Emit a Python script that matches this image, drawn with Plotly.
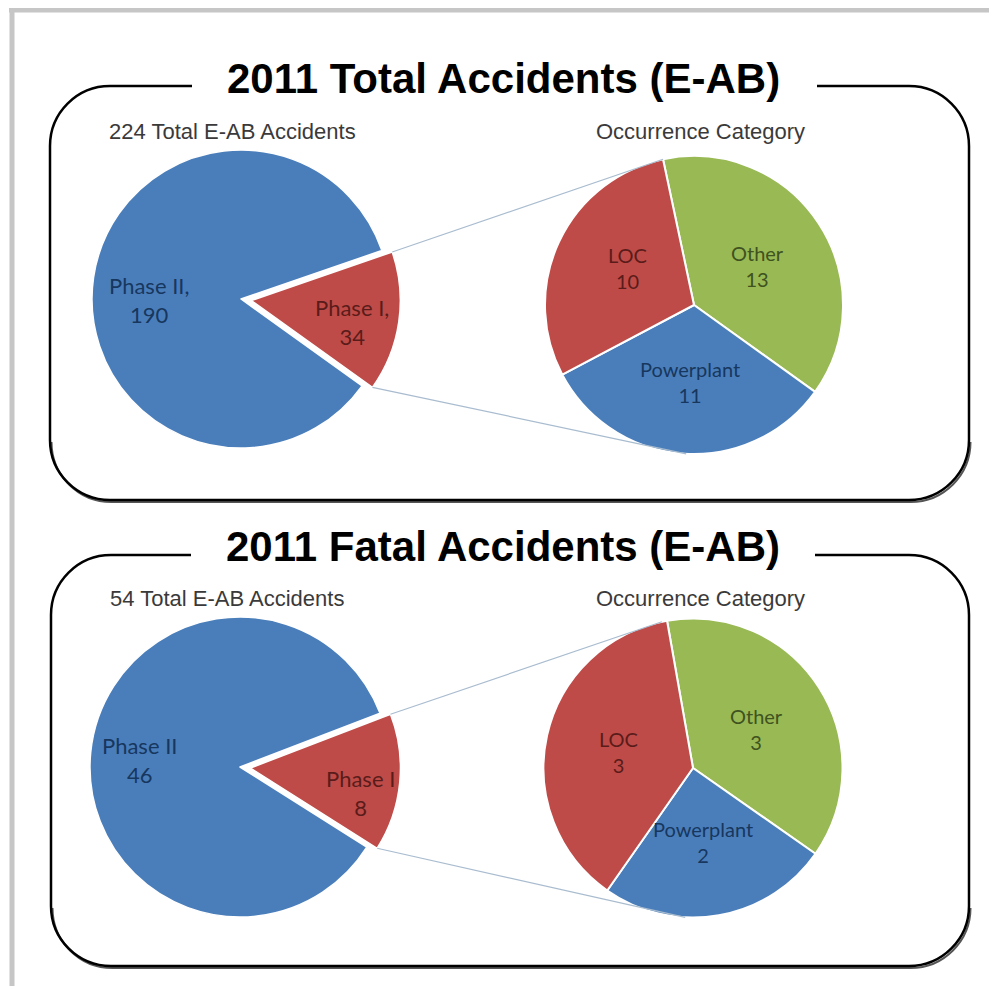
import math
import plotly.graph_objects as go

# The page body has an 8px margin, so the figure is drawn at (8, 8):
# reference pixel = figure pixel + OFF
W, H = 997, 994
OFF = 8
FW, FH = W - OFF, H - 2 * OFF

# ---------------- data ----------------
panel_titles = ["2011 Total Accidents (E-AB)", "2011 Fatal Accidents (E-AB)"]
left_subtitles = ["224 Total E-AB Accidents", "54 Total E-AB Accidents"]
right_subtitles = ["Occurrence Category", "Occurrence Category"]

phase_labels = ["Phase I", "Phase II"]
total_phase_values = [34, 190]
fatal_phase_values = [8, 46]

occ_labels = ["Other", "Powerplant", "LOC"]
total_occ_values = [13, 11, 10]
fatal_occ_values = [3, 2, 3]

# ---------------- style / layout ----------------
BLUE, RED, GREEN = "#4A7EBB", "#BE4B48", "#98B954"
phase_colors = [RED, BLUE]
occ_colors = [GREEN, BLUE, RED]
phase_text_colors = ["#5A1C1A", "#17375E"]
occ_text_colors = ["#3F5220", "#17375E", "#5A1C1A"]

panels = [
    dict(box=(50, 86, 969, 500), gap=(192, 817), title_y=78, sub_y=131,
         left=dict(cx=241, cy=299, r=149, rot=71, pull=0.07),
         right=dict(cx=694, cy=305, r=149, rot=-12),
         phase_values=total_phase_values, occ_values=total_occ_values, sep=",",
         phase_lab=[(0.69, 4), (0.62, -9)],
         occ_lab=[(0.50, 2), (0.52, -1), (0.51, 4)]),
    dict(box=(51, 555, 969, 966), gap=(191, 815), title_y=546, sub_y=598,
         left=dict(cx=240, cy=767, r=150, rot=69, pull=0.07),
         right=dict(cx=693, cy=768, r=149.5, rot=-10),
         phase_values=fatal_phase_values, occ_values=fatal_occ_values, sep="",
         phase_lab=[(0.75, 7), (0.67, -1.5)],
         occ_lab=[(0.50, 1), (0.50, 2), (0.51, 0)]),
]


def slice_angles(values, rotation):
    tot = float(sum(values))
    a = rotation
    out = []
    for v in values:
        span = 360.0 * v / tot
        out.append((a, a + span))
        a += span
    return out


def polar(cx, cy, r, compass):
    t = math.radians(compass)
    return cx + r * math.sin(t), cy - r * math.cos(t)


def domain(cx, cy, r, pull=0.0):
    half = r * (1 + pull)
    return dict(x=[(cx - half - OFF) / FW, (cx + half - OFF) / FW],
                y=[1 - (cy + half - OFF) / FH, 1 - (cy - half - OFF) / FH])


def panel_path(x0, y0, x1, y1, r, gl, gr):
    k = 0.5523 * r
    return (f"M{gl},{y0} L{x0 + r},{y0} C{x0 + r - k},{y0} {x0},{y0 + r - k} {x0},{y0 + r} "
            f"L{x0},{y1 - r} C{x0},{y1 - r + k} {x0 + r - k},{y1} {x0 + r},{y1} "
            f"L{x1 - r},{y1} C{x1 - r + k},{y1} {x1},{y1 - r + k} {x1},{y1 - r} "
            f"L{x1},{y0 + r} C{x1},{y0 + r - k} {x1 - r + k},{y0} {x1 - r},{y0} L{gr},{y0}")


def bottom_shadow(x0, y0, x1, y1, r, dx=1.5, dy=2.0):
    k = 0.5523 * r
    return (f"M{x0 + dx},{y1 - r + dy} C{x0 + dx},{y1 - r + k + dy} {x0 + r - k + dx},{y1 + dy} {x0 + r + dx},{y1 + dy} "
            f"L{x1 - r + dx},{y1 + dy} C{x1 - r + k + dx},{y1 + dy} {x1 + dx},{y1 - r + k + dy} {x1 + dx},{y1 - r + dy}")


fig = go.Figure()
shapes = []
annotations = []

# outer gray frame
shapes.append(dict(type="line", xref="x", yref="y", x0=9, y0=10, x1=W, y1=10,
                   line=dict(color="#C6C6C6", width=5)))
shapes.append(dict(type="line", xref="x", yref="y", x0=12, y0=8, x1=12, y1=H,
                   line=dict(color="#C6C6C6", width=5)))

for i, p in enumerate(panels):
    L, R = p["left"], p["right"]
    x0, y0, x1, y1 = p["box"]

    # left pie (Phase I exploded)
    fig.add_trace(go.Pie(
        labels=phase_labels, values=p["phase_values"], sort=False,
        direction="clockwise", rotation=L["rot"], pull=[L["pull"], 0],
        marker=dict(colors=phase_colors, line=dict(color="white", width=1.5)),
        textinfo="none", hoverinfo="label+value", showlegend=False,
        domain=domain(L["cx"], L["cy"], L["r"], L["pull"])))

    # right pie (breakdown of Phase I)
    fig.add_trace(go.Pie(
        labels=occ_labels, values=p["occ_values"], sort=False,
        direction="clockwise", rotation=R["rot"],
        marker=dict(colors=occ_colors, line=dict(color="white", width=2)),
        textinfo="none", hoverinfo="label+value", showlegend=False,
        domain=domain(R["cx"], R["cy"], R["r"])))

    # labels of left pie
    angs = slice_angles(p["phase_values"], L["rot"])
    for j, (a0, a1) in enumerate(angs):
        mid = (a0 + a1) / 2
        cx, cy = L["cx"], L["cy"]
        if j == 0:
            cx, cy = polar(cx, cy, L["pull"] * L["r"], mid)
        frac, nudge = p["phase_lab"][j]
        tx, ty = polar(cx, cy, frac * L["r"], mid + nudge)
        annotations.append(dict(
            x=tx, y=ty, xref="x", yref="y", showarrow=False,
            text=f"{phase_labels[j]}{p['sep']}<br>{p['phase_values'][j]}",
            font=dict(family="Lato", size=22, color=phase_text_colors[j]),
            xanchor="center", yanchor="middle"))

    # connector lines
    a0, a1 = angs[0]
    mid = (a0 + a1) / 2
    tipx, tipy = polar(L["cx"], L["cy"], L["pull"] * L["r"], mid)
    ux, uy = polar(tipx, tipy, L["r"], a0)
    lx, ly = polar(tipx, tipy, L["r"], a1)
    ex1, ey1 = polar(R["cx"], R["cy"], R["r"], 348)
    ex2, ey2 = polar(R["cx"], R["cy"], R["r"], 183)
    shapes.append(dict(type="line", xref="x", yref="y", x0=ux, y0=uy, x1=ex1, y1=ey1,
                       line=dict(color="#A9BCCF", width=1.2)))
    shapes.append(dict(type="line", xref="x", yref="y", x0=lx, y0=ly, x1=ex2, y1=ey2,
                       line=dict(color="#A9BCCF", width=1.2)))

    # labels of right pie
    for j, (b0, b1) in enumerate(slice_angles(p["occ_values"], R["rot"])):
        mid = (b0 + b1) / 2
        frac, nudge = p["occ_lab"][j]
        tx, ty = polar(R["cx"], R["cy"], frac * R["r"], mid + nudge)
        annotations.append(dict(
            x=tx, y=ty, xref="x", yref="y", showarrow=False,
            text=f"{occ_labels[j]}<br>{p['occ_values'][j]}",
            font=dict(family="Lato", size=20, color=occ_text_colors[j]),
            xanchor="center", yanchor="middle"))

    # panel outline
    shapes.append(dict(type="path", xref="x", yref="y",
                       path=bottom_shadow(x0, y0, x1, y1, 60),
                       line=dict(color="#555555", width=2)))
    shapes.append(dict(type="path", xref="x", yref="y",
                       path=panel_path(x0, y0, x1, y1, 60, *p["gap"]),
                       line=dict(color="black", width=2.5)))

    # titles
    annotations.append(dict(
        x=503, y=p["title_y"], xref="x", yref="y", showarrow=False,
        text=f"<b>{panel_titles[i]}</b>",
        font=dict(family="Liberation Sans, Arial", size=42, color="black"),
        xanchor="center", yanchor="middle"))
    annotations.append(dict(
        x=x0 + 57, y=p["sub_y"], xref="x", yref="y", showarrow=False,
        text=left_subtitles[i],
        font=dict(family="Liberation Sans, Arial", size=22, color="#3A3A3A"),
        xanchor="left", yanchor="middle"))
    annotations.append(dict(
        x=700, y=p["sub_y"], xref="x", yref="y", showarrow=False,
        text=right_subtitles[i],
        font=dict(family="Liberation Sans, Arial", size=22, color="#3A3A3A"),
        xanchor="center", yanchor="middle"))

fig.update_layout(
    width=FW, height=FH, autosize=False,
    margin=dict(l=0, r=0, t=0, b=0),
    paper_bgcolor="white", plot_bgcolor="white",
    xaxis=dict(range=[OFF, OFF + FW], visible=False, fixedrange=True),
    yaxis=dict(range=[OFF + FH, OFF], visible=False, fixedrange=True),
    shapes=shapes, annotations=annotations,
)

fig.write_html("out.html")
